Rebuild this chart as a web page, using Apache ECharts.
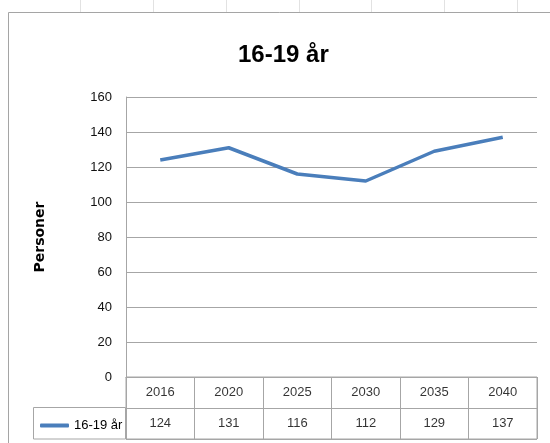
<!DOCTYPE html>
<html>
<head>
<meta charset="utf-8">
<script src="https://cdn.jsdelivr.net/npm/echarts@6/dist/echarts.min.js"></script>
<style>
html, body { margin: 0; padding: 0; background: #fff; }
#chart { width: 550px; height: 443px; }
</style>
</head>
<body>
<div id="chart"></div>
<script>
// data
var title = '16-19 år';
var seriesName = '16-19 år';
var years = ['2016', '2020', '2025', '2030', '2035', '2040'];
var persons = [124, 131, 116, 112, 129, 137];
var yMin = 0, yMax = 160, yStep = 20;
var tableRows = ['år', seriesName];

var font = 'Liberation Sans, Arial, sans-serif';
var grey = '#a6a6a6';
var blue = '#4a7ebb';

var chart = echarts.init(document.getElementById('chart'));

// table cells: year row and value row
var yearCells = years.map(function(y, i) { return [i, tableRows[0], y]; });
var valueCells = persons.map(function(v, i) { return [i, tableRows[1], v]; });

var cellLabel = {
    show: true,
    position: 'inside',
    color: '#000',
    fontFamily: font,
    fontSize: 13,
    formatter: function(p) { return p.value[2]; }
};

chart.setOption({
    animation: false,
    backgroundColor: '#fff',
    title: {
        text: title,
        left: 233,
        top: 38,
        textStyle: { fontFamily: font, fontWeight: 'bold', fontSize: 24, color: '#000' }
    },
    legend: {
        data: [{ name: seriesName, icon: 'roundRect' }],
        left: 35,
        top: 414,
        itemWidth: 29,
        itemHeight: 4,
        textStyle: { fontFamily: font, fontSize: 13, color: '#000' },
        selectedMode: false
    },
    grid: [
        { left: 126, right: 13, top: 97, bottom: 66 },
        { left: 126, right: 13, top: 377, bottom: 4, show: true, borderColor: grey, borderWidth: 1 }
    ],
    xAxis: [
        {
            type: 'category', data: years, boundaryGap: true, gridIndex: 0,
            axisLine: { lineStyle: { color: grey } },
            axisTick: { show: false },
            axisLabel: { show: false }
        },
        {
            type: 'category', data: years, boundaryGap: true, gridIndex: 1,
            axisLine: { show: false },
            axisTick: { show: false },
            axisLabel: { show: false },
            splitLine: { show: true, interval: 0, lineStyle: { color: grey } }
        }
    ],
    yAxis: [
        {
            type: 'value', min: yMin, max: yMax, interval: yStep, gridIndex: 0,
            name: 'Personer',
            nameLocation: 'middle',
            nameGap: 79,
            nameTextStyle: { fontFamily: 'DejaVu Sans', fontWeight: 'bold', fontSize: 14, color: '#000' },
            axisLine: { show: true, lineStyle: { color: grey } },
            axisTick: { show: false },
            axisLabel: { margin: 14, fontFamily: font, fontSize: 13, color: '#111' },
            splitLine: { lineStyle: { color: grey } }
        },
        {
            type: 'category', data: tableRows, inverse: true, gridIndex: 1,
            axisLine: { show: false },
            axisTick: { show: false },
            axisLabel: { show: false },
            splitLine: { show: true, interval: 0, lineStyle: { color: grey } }
        }
    ],
    series: [
        {
            name: seriesName,
            type: 'line',
            data: persons,
            symbol: 'none',
            lineStyle: { color: blue, width: 3.5 },
            itemStyle: { color: blue }
        },
        {
            type: 'scatter', xAxisIndex: 1, yAxisIndex: 1, silent: true,
            symbolSize: 1, itemStyle: { color: 'rgba(0,0,0,0)' },
            data: yearCells, label: cellLabel
        },
        {
            type: 'scatter', xAxisIndex: 1, yAxisIndex: 1, silent: true,
            symbolSize: 1, itemStyle: { color: 'rgba(0,0,0,0)' },
            data: valueCells, label: cellLabel
        }
    ],
    graphic: [
        // chart frame
        { type: 'rect', silent: true, shape: { x: 8.5, y: 12.5, width: 600, height: 500 },
          style: { fill: null, stroke: '#a5a5a5', lineWidth: 1 } },
        // legend cell of the data table
        { type: 'rect', silent: true, shape: { x: 33.5, y: 407.5, width: 92, height: 31.5 },
          style: { fill: null, stroke: grey, lineWidth: 1 } },
        // faint sheet column marks above the frame
        { type: 'group', silent: true, children: [80, 153, 226, 299, 371, 444, 517].map(function(x) {
            return { type: 'line', shape: { x1: x + 0.5, y1: 0, x2: x + 0.5, y2: 12 },
                     style: { stroke: '#e2e2e2', lineWidth: 1 } };
        }) }
    ]
});
</script>
</body>
</html>
